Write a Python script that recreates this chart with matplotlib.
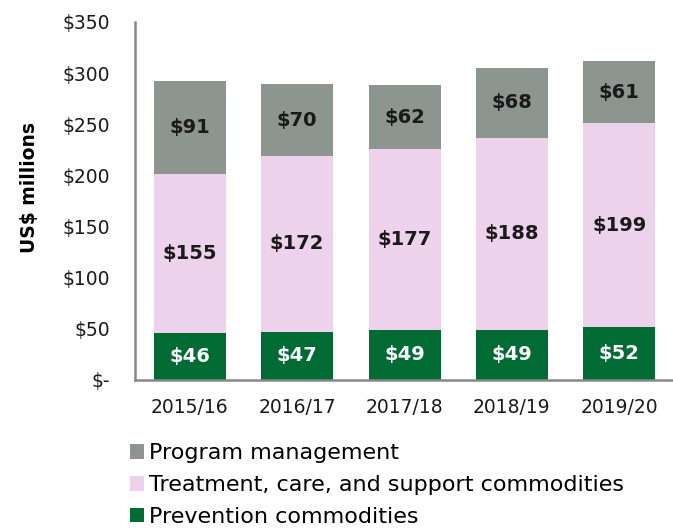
import matplotlib
matplotlib.use("Agg")
import matplotlib.pyplot as plt
import numpy as np

plt.rcParams['font.family'] = ['DejaVu Sans']

years = ["2015/16", "2016/17", "2017/18", "2018/19", "2019/20"]
prevention = [46, 47, 49, 49, 52]
treatment = [155, 172, 177, 188, 199]
program = [91, 70, 62, 68, 61]
yticks = [0, 50, 100, 150, 200, 250, 300, 350]
ytick_labels = ["$-", "$50", "$100", "$150", "$200", "$250", "$300", "$350"]

c_prev = "#006b32"
c_treat = "#ecd2ea"
c_prog = "#8c9590"

fig = plt.figure(figsize=(6.73, 5.31), dpi=100)
ax = fig.add_axes([0.2006, 0.2844, 0.7994, 0.6742])

x = np.arange(len(years))
w = 0.67
prev = np.array(prevention)
treat = np.array(treatment)
prog = np.array(program)

b1 = ax.bar(x, prev, w, color=c_prev, label="Prevention commodities")
b2 = ax.bar(x, treat, w, bottom=prev, color=c_treat, label="Treatment, care, and support commodities")
b3 = ax.bar(x, prog, w, bottom=prev + treat, color=c_prog, label="Program management")

for i in range(len(years)):
    ax.text(x[i], prev[i] / 2, f"${prev[i]}", ha="center", va="center",
            color="white", fontsize=14, fontweight="bold")
    ax.text(x[i], prev[i] + treat[i] / 2, f"${treat[i]}", ha="center", va="center",
            color="#1a1a1a", fontsize=14, fontweight="bold")
    ax.text(x[i], prev[i] + treat[i] + prog[i] / 2, f"${prog[i]}", ha="center", va="center",
            color="#1a1a1a", fontsize=14, fontweight="bold")

ax.set_xlim(-0.51, 4.5)
ax.set_ylim(0, 350)
ax.set_yticks(yticks)
ax.set_yticklabels(ytick_labels)
ax.set_xticks(x)
ax.set_xticklabels(years)
ax.tick_params(axis="both", length=0, labelsize=13.5, colors="#1a1a1a")
ax.tick_params(axis="y", pad=18)
ax.tick_params(axis="x", pad=13)
for s in ["top", "right"]:
    ax.spines[s].set_visible(False)
for s in ["left", "bottom"]:
    ax.spines[s].set_color("#888888")
    ax.spines[s].set_linewidth(1.8)

ax.set_ylabel("US$ millions", fontsize=13.5, fontweight="bold")
ax.yaxis.set_label_coords(-0.178, 0.538)

handles = [b3, b2, b1]
labels = [h.get_label() for h in handles]
fig.legend(handles, labels, loc="upper left", bbox_to_anchor=(0.193, 0.165),
           frameon=False, fontsize=16, handlelength=0.62, handleheight=0.62,
           handletextpad=0.25, labelspacing=0.53, borderaxespad=0, borderpad=0)

fig.savefig("out.png", dpi=100)
